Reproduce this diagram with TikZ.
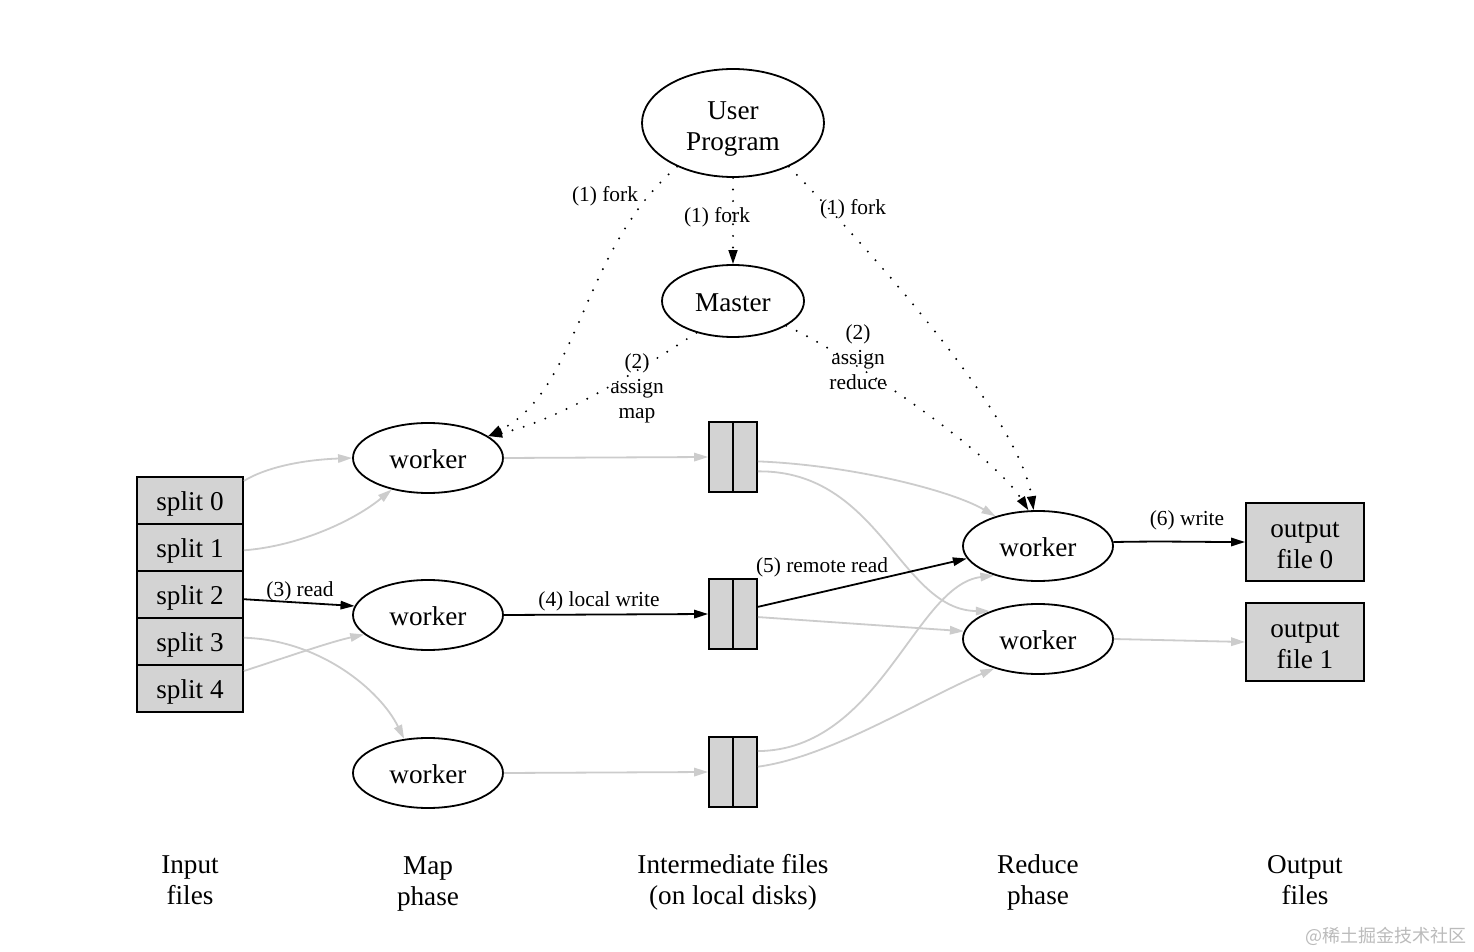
\documentclass[tikz,border=0pt]{standalone}
\usepackage{fontspec}
\setmainfont{Liberation Serif}
\newfontfamily\cjkfont{Noto Sans CJK SC}
\usetikzlibrary{arrows.meta,shapes.geometric}
\definecolor{boxfill}{HTML}{D3D3D3}
\definecolor{edgegray}{HTML}{CCCCCC}
\definecolor{wmgray}{HTML}{BBBBBB}
\begin{document}
\begin{tikzpicture}[x=0.5pt,y=-0.5pt,
  every node/.style={font=\fontsize{13.6}{15.5}\selectfont, inner sep=0pt},
  ell/.style={ellipse, draw, line width=0.9pt},
  box/.style={rectangle, draw, line width=0.9pt, fill=boxfill},
  oneline/.style={text height=10.3pt, text depth=0pt},
  ifile/.style={rectangle, draw, line width=0.9pt, fill=boxfill, minimum width=24pt, minimum height=35pt},
  lbl/.style={font=\fontsize{10.7}{12.5}\selectfont, align=center},
  caption/.style={align=center},
  solidedge/.style={-{Triangle[length=7pt,width=4.2pt]}, line width=0.9pt, draw=black},
  grayedge/.style={-{Triangle[length=7pt,width=4.2pt]}, line width=0.9pt, draw=edgegray},
  dotedge/.style={-{Triangle[length=7pt,width=4.4pt]}, line width=1.1pt, line cap=round, dash pattern=on 0pt off 5.8pt}
]
\fill[white] (0,0) rectangle (1474,952);
\useasboundingbox (0,0) rectangle (1474,952);

% nodes
\node[ell, minimum width=91pt, minimum height=54pt] (up) at (733,123) {};
\node[align=center] (uptxt) at (733,129) {User\\Program};
\node[ell, oneline, minimum width=71pt, minimum height=36pt] (ms) at (733,301) {Master};
\node[ell, oneline, minimum width=75pt, minimum height=35pt] (w1) at (428,458) {worker};
\node[ell, oneline, minimum width=75pt, minimum height=35pt] (w2) at (428,615) {worker};
\node[ell, oneline, minimum width=75pt, minimum height=35pt] (w3) at (428,773) {worker};
\node[ell, oneline, minimum width=75pt, minimum height=35pt] (r1) at (1038,546) {worker};
\node[ell, oneline, minimum width=75pt, minimum height=35pt] (r2) at (1038,639) {worker};

\node[box, oneline, minimum width=53pt, minimum height=23.5pt] (s0) at (190,500.5) {split 0};
\node[box, oneline, minimum width=53pt, minimum height=23.5pt] (s1) at (190,547.5) {split 1};
\node[box, oneline, minimum width=53pt, minimum height=23.5pt] (s2) at (190,594.5) {split 2};
\node[box, oneline, minimum width=53pt, minimum height=23.5pt] (s3) at (190,641.5) {split 3};
\node[box, oneline, minimum width=53pt, minimum height=23.5pt] (s4) at (190,688.5) {split 4};

\node[ifile] (i1) at (733,457) {};
\node[ifile] (i2) at (733,614) {};
\node[ifile] (i3) at (733,772) {};
\draw[line width=0.9pt] (i1.north) -- (i1.south);
\draw[line width=0.9pt] (i2.north) -- (i2.south);
\draw[line width=0.9pt] (i3.north) -- (i3.south);

\node[box, minimum width=59pt, minimum height=39pt] (o0) at (1305,542) {};
\node[align=center] (o0txt) at (1305,545) {output\\file 0};
\node[box, minimum width=59pt, minimum height=39pt] (o1) at (1305,642) {};
\node[align=center] (o1txt) at (1305,645) {output\\file 1};

% dotted control edges
\draw[dotedge] (up.218) .. controls (580,250) and (580,390) .. (w1.20);
\draw[dotedge] (up.south) -- (ms.north);
\draw[dotedge] (up.-38) .. controls (880,260) and (1020,420) .. (r1.97);
\draw[dotedge] (ms.221) .. controls (640,370) and (560,420) .. (w1.20);
\draw[dotedge] (ms.-25) .. controls (840,350) and (990,450) .. (r1.105);

% gray data edges
\draw[grayedge] (s0.20) .. controls (265,468) and (300,460) .. (w1.west);
\draw[grayedge] (s1.-3) .. controls (300,546) and (355,520) .. (w1.221);
\draw[grayedge] (s3.4) .. controls (320,640) and (380,690) .. (w3.125);
\draw[grayedge] (s4.18) .. controls (290,656) and (330,642) .. (w2.197);
\draw[grayedge] (w1.east) -- (i1.west);
\draw[grayedge] (w3.east) -- (i3.west);
\draw[grayedge] (i1.-10) .. controls (850,465) and (950,490) .. (r1.145);
\draw[grayedge] (i1.-30) .. controls (880,470) and (900,610) .. (r2.150);
\draw[grayedge] (i2.-7) -- (r2.174);
\draw[grayedge] (i3.40) .. controls (880,750) and (915,585) .. (r1.214);
\draw[grayedge] (i3.12) .. controls (830,757) and (920,700) .. (r2.214);
\draw[grayedge] (r2.east) -- (o1.west);

% black data edges
\draw[solidedge] (s2.-5) -- (w2.173);
\draw[solidedge] (w2.east) -- (i2.west);
\draw[solidedge] (i2.16) -- (r1.190);
\draw[solidedge] (r1.3) .. controls (1160,541) and (1200,542) .. (o0.west);

% edge labels
\node[lbl] (lf1) at (605,196) {(1) fork};
\node[lbl] (lf2) at (717,217) {(1) fork};
\node[lbl] (lf3) at (853,209) {(1) fork};
\node[lbl] (lam) at (637,388.5) {(2)\\assign\\map};
\node[lbl] (lar) at (858,357) {(2)\\assign\\reduce};
\node[lbl] (lrd) at (300,591) {(3) read};
\node[lbl] (llw) at (599,601) {(4) local write};
\node[lbl] (lrr) at (822,567) {(5) remote read};
\node[lbl] (lwr) at (1187,520) {(6) write};

% captions
\node[caption] (c1) at (190,880) {Input\\files};
\node[caption] (c2) at (428,883.5) {Map\\phase};
\node[caption] (c3) at (733,882.5) {Intermediate files\\(on local disks)};
\node[caption] (c4) at (1038,882.5) {Reduce\\phase};
\node[caption] (c5) at (1305,880) {Output\\files};

\node[font=\cjkfont\fontsize{9}{11}\selectfont, text=wmgray, anchor=east] (wm) at (1467,936) {@稀土掘金技术社区};
\end{tikzpicture}
\end{document}
